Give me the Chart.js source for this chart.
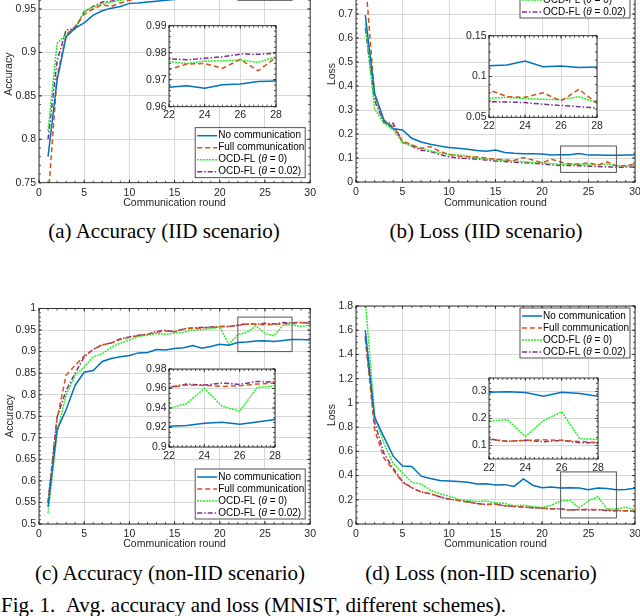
<!DOCTYPE html>
<html>
<head>
<meta charset="utf-8">
<script src="https://cdn.jsdelivr.net/npm/chart.js@4.4.0/dist/chart.umd.min.js"></script>
<style>
  body { margin: 0; background: #fff; }
  #fig { position: relative; width: 640px; height: 616px; overflow: hidden; background: #fff; }
  #fig canvas { position: absolute; }
  .cap { position: absolute; width: 340px; text-align: center; line-height: 24px;
         font-family: "Liberation Serif", "Times New Roman", serif; font-size: 21px; color: #000; white-space: nowrap; }
</style>
</head>
<body>
<div id="fig">
  <canvas id="mainA"></canvas><canvas id="insetA"></canvas>
  <canvas id="mainB"></canvas><canvas id="insetB"></canvas>
  <canvas id="mainC"></canvas><canvas id="insetC"></canvas>
  <canvas id="mainD"></canvas><canvas id="insetD"></canvas>
  <div class="cap" style="left:-6px;top:219px">(a) Accuracy (IID scenario)</div>
  <div class="cap" style="left:316px;top:219px">(b) Loss (IID scenario)</div>
  <div class="cap" style="left:0px;top:561px">(c) Accuracy (non-IID scenario)</div>
  <div class="cap" style="left:311px;top:561px">(d) Loss (non-IID scenario)</div>
  <div class="cap" style="left:1px;top:593px;text-align:left;width:620px">Fig. 1.&nbsp;&nbsp;Avg. accuracy and loss (MNIST, different schemes).</div>
</div>

<script>
/** ================================
 *  Datos
 =================================*/
const rounds = [1, 2, 3, 4, 5, 6, 7, 8, 9, 10, 11, 12, 13, 14, 15, 16, 17, 18, 19, 20, 21, 22, 23, 24, 25, 26, 27, 28, 29, 30];
const seriesNames = ["No communication", "Full communication", "OCD-FL (θ = 0)", "OCD-FL (θ = 0.02)"];

// (a) accuracy, IID
const accIidNone = [0.780, 0.868, 0.918, 0.928, 0.934, 0.943, 0.948, 0.951, 0.953, 0.9565, 0.957, 0.958, 0.959, 0.960, 0.961, 0.962, 0.963, 0.964, 0.965, 0.9655, 0.966, 0.9672, 0.9678, 0.9668, 0.9681, 0.9684, 0.9693, 0.9695, 0.9695, 0.970];
const accIidFull = [0.730, 0.872, 0.920, 0.930, 0.944, 0.950, 0.955, 0.953, 0.957, 0.960, 0.962, 0.964, 0.966, 0.967, 0.968, 0.969, 0.970, 0.971, 0.972, 0.973, 0.973, 0.9738, 0.9758, 0.9760, 0.9742, 0.9775, 0.9733, 0.9783, 0.977, 0.978];
const accIidOcd0 = [0.810, 0.910, 0.921, 0.928, 0.947, 0.952, 0.956, 0.958, 0.960, 0.962, 0.964, 0.966, 0.968, 0.969, 0.970, 0.971, 0.972, 0.973, 0.974, 0.975, 0.976, 0.9767, 0.9760, 0.9769, 0.9770, 0.9773, 0.9764, 0.9785, 0.978, 0.979];
const accIidOcd002 = [0.800, 0.890, 0.926, 0.927, 0.947, 0.953, 0.958, 0.959, 0.961, 0.963, 0.965, 0.967, 0.969, 0.970, 0.971, 0.972, 0.973, 0.974, 0.975, 0.976, 0.977, 0.9777, 0.9774, 0.9779, 0.9785, 0.9795, 0.9794, 0.9798, 0.980, 0.980];

// (b) loss, IID
const lossIidNone = [0.695, 0.370, 0.258, 0.222, 0.217, 0.182, 0.167, 0.157, 0.150, 0.144, 0.141, 0.136, 0.131, 0.128, 0.133, 0.123, 0.120, 0.118, 0.118, 0.117, 0.113, 0.1133, 0.114, 0.119, 0.112, 0.113, 0.111, 0.1116, 0.112, 0.112];
const lossIidFull = [0.850, 0.360, 0.250, 0.232, 0.170, 0.155, 0.140, 0.148, 0.128, 0.115, 0.108, 0.105, 0.104, 0.100, 0.095, 0.092, 0.090, 0.102, 0.092, 0.080, 0.095, 0.0835, 0.0753, 0.0745, 0.0800, 0.0700, 0.0843, 0.0670, 0.068, 0.075];
const lossIidOcd0 = [0.660, 0.305, 0.245, 0.218, 0.165, 0.152, 0.140, 0.130, 0.122, 0.115, 0.112, 0.108, 0.100, 0.096, 0.093, 0.090, 0.087, 0.085, 0.082, 0.080, 0.077, 0.0733, 0.0745, 0.0730, 0.0720, 0.0717, 0.0753, 0.0680, 0.068, 0.069];
const lossIidOcd002 = [0.640, 0.340, 0.247, 0.245, 0.165, 0.150, 0.132, 0.127, 0.115, 0.105, 0.100, 0.098, 0.095, 0.092, 0.087, 0.085, 0.082, 0.080, 0.078, 0.075, 0.072, 0.0690, 0.0688, 0.0680, 0.0660, 0.0645, 0.0630, 0.0615, 0.062, 0.062];

// (c) accuracy, non-IID
const accNonNone = [0.540, 0.719, 0.765, 0.822, 0.852, 0.856, 0.877, 0.884, 0.888, 0.891, 0.897, 0.898, 0.905, 0.904, 0.907, 0.909, 0.914, 0.908, 0.912, 0.917, 0.915, 0.9213, 0.9220, 0.9244, 0.9254, 0.9233, 0.9257, 0.9281, 0.928, 0.927];
const accNonFull = [0.550, 0.745, 0.845, 0.868, 0.890, 0.905, 0.915, 0.920, 0.928, 0.933, 0.937, 0.940, 0.945, 0.948, 0.946, 0.952, 0.954, 0.955, 0.956, 0.958, 0.958, 0.9610, 0.9635, 0.9632, 0.9621, 0.9628, 0.9645, 0.9656, 0.967, 0.966];
const accNonOcd0 = [0.525, 0.710, 0.800, 0.845, 0.865, 0.888, 0.895, 0.910, 0.920, 0.927, 0.935, 0.938, 0.942, 0.940, 0.943, 0.945, 0.950, 0.951, 0.953, 0.957, 0.917, 0.9395, 0.9446, 0.9600, 0.9419, 0.9367, 0.9611, 0.9628, 0.958, 0.962];
const accNonOcd002 = [0.550, 0.748, 0.810, 0.850, 0.888, 0.905, 0.916, 0.920, 0.930, 0.934, 0.938, 0.940, 0.947, 0.949, 0.946, 0.953, 0.955, 0.956, 0.957, 0.958, 0.958, 0.9611, 0.9645, 0.9635, 0.9656, 0.9642, 0.9673, 0.9666, 0.968, 0.966];

// (d) loss, non-IID
const lossNonNone = [1.600, 0.878, 0.720, 0.560, 0.478, 0.475, 0.395, 0.375, 0.360, 0.355, 0.350, 0.345, 0.330, 0.332, 0.322, 0.325, 0.310, 0.372, 0.320, 0.300, 0.305, 0.2975, 0.2990, 0.2963, 0.2825, 0.2975, 0.2925, 0.2825, 0.285, 0.295];
const lossNonFull = [1.530, 0.780, 0.545, 0.447, 0.343, 0.300, 0.265, 0.250, 0.225, 0.205, 0.195, 0.180, 0.170, 0.160, 0.165, 0.150, 0.145, 0.140, 0.135, 0.130, 0.125, 0.1225, 0.1160, 0.1190, 0.1210, 0.1190, 0.1150, 0.1110, 0.110, 0.105];
const lossNonOcd0 = [1.850, 0.900, 0.667, 0.500, 0.420, 0.343, 0.330, 0.280, 0.250, 0.230, 0.205, 0.195, 0.185, 0.190, 0.175, 0.170, 0.150, 0.155, 0.145, 0.135, 0.155, 0.1900, 0.1960, 0.1338, 0.1925, 0.2250, 0.1250, 0.1225, 0.140, 0.115];
const lossNonOcd002 = [1.550, 0.840, 0.584, 0.460, 0.350, 0.300, 0.263, 0.250, 0.225, 0.205, 0.195, 0.185, 0.170, 0.160, 0.165, 0.150, 0.145, 0.140, 0.135, 0.130, 0.125, 0.1250, 0.1150, 0.1190, 0.1140, 0.1190, 0.1100, 0.1100, 0.110, 0.105];

// ticks
const xTicks = [0, 5, 10, 15, 20, 25, 30];
const insetXTicks = [22, 24, 26, 28];
const accIidTicks = [0.75, 0.8, 0.85, 0.9, 0.95, 1];
const lossIidTicks = [0, 0.1, 0.2, 0.3, 0.4, 0.5, 0.6, 0.7, 0.8, 0.9];
const accNonTicks = [0.5, 0.55, 0.6, 0.65, 0.7, 0.75, 0.8, 0.85, 0.9, 0.95, 1];
const lossNonTicks = [0, 0.2, 0.4, 0.6, 0.8, 1, 1.2, 1.4, 1.6, 1.8];
const accIidInsetTicks = [0.96, 0.97, 0.98, 0.99];
const lossIidInsetTicks = [0.05, 0.1, 0.15];
const accNonInsetTicks = [0.9, 0.92, 0.94, 0.96, 0.98];
const lossNonInsetTicks = [0.1, 0.2, 0.3];

/** ================================
 *  Estilos
 =================================*/
const FONT = '"Liberation Sans", Arial, Helvetica, sans-serif';
const INK = "#262626";
const lineStyles = [
    { color: "#0072BD", dash: [] },
    { color: "#D95319", dash: [5, 3] },
    { color: "#22F022", dash: [2, 1] },
    { color: "#7E2F8E", dash: [5, 2, 1.5, 2] }
];

Chart.defaults.font.family = FONT;
Chart.defaults.font.size = 10.5;
Chart.defaults.color = INK;

/** ================================
 *  Plugin: caja, ticks hacia dentro, zoom y leyenda
 =================================*/
function tickMarks(ctx, a, scale, horiz, values, len) {
    ctx.beginPath();
    values.forEach(v => {
        const p = scale.getPixelForValue(v);
        if (horiz) {
            ctx.moveTo(p, a.bottom); ctx.lineTo(p, a.bottom - len);
            ctx.moveTo(p, a.top); ctx.lineTo(p, a.top + len);
        } else {
            ctx.moveTo(a.left, p); ctx.lineTo(a.left + len, p);
            ctx.moveTo(a.right, p); ctx.lineTo(a.right - len, p);
        }
    });
    ctx.stroke();
}

function minorValues(scale, step) {
    const out = [];
    const n = Math.round((scale.max - scale.min) / step);
    for (let i = 0; i <= n; i++) out.push(scale.min + i * step);
    return out;
}

function drawLegend(chart, corner) {
    const ctx = chart.ctx, a = chart.chartArea;
    const w = 110, h = 50;
    const x = a.right - 5 - w;
    const y = corner === "tr" ? a.top + 2 : a.bottom - 5 - h;
    ctx.fillStyle = "#fff";
    ctx.fillRect(x, y, w, h);
    ctx.strokeStyle = INK;
    ctx.lineWidth = 0.8;
    ctx.setLineDash([]);
    ctx.strokeRect(x, y, w, h);
    ctx.textBaseline = "middle";
    chart.data.datasets.forEach((ds, i) => {
        const cy = y + 8 + i * 12;
        ctx.strokeStyle = ds.borderColor;
        ctx.lineWidth = ds.borderWidth;
        ctx.setLineDash(ds.borderDash);
        ctx.beginPath(); ctx.moveTo(x + 2, cy); ctx.lineTo(x + 22, cy); ctx.stroke();
        ctx.setLineDash([]);
        ctx.fillStyle = "#000";
        let tx = x + 23;
        ds.label.split(/(θ)/).forEach(part => {
            if (!part) return;
            ctx.font = (part === "θ" ? "italic " : "") + "10px " + FONT;
            ctx.fillText(part, tx, cy);
            tx += ctx.measureText(part).width;
        });
    });
}

const matlabAxes = {
    id: "matlabAxes",
    beforeDraw(chart, args, o) {
        if (!o.fillArea) return;
        const a = chart.chartArea, ctx = chart.ctx;
        ctx.save();
        ctx.fillStyle = "#fff";
        ctx.fillRect(a.left, a.top, a.right - a.left, a.bottom - a.top);
        ctx.restore();
    },
    afterDatasetsDraw(chart, args, o) {
        const ctx = chart.ctx, a = chart.chartArea;
        const xs = chart.scales.x, ys = chart.scales.y;
        ctx.save();
        if (o.zoomBox) {
            const [x0, x1, y0, y1] = o.zoomBox;
            const px0 = xs.getPixelForValue(x0), px1 = xs.getPixelForValue(x1);
            const py0 = ys.getPixelForValue(y0), py1 = ys.getPixelForValue(y1);
            ctx.strokeStyle = "#555";
            ctx.lineWidth = 1;
            ctx.strokeRect(px0, py1, px1 - px0, py0 - py1);
        }
        ctx.strokeStyle = INK;
        ctx.lineWidth = 0.9;
        ctx.strokeRect(a.left, a.top, a.right - a.left, a.bottom - a.top);
        ctx.lineWidth = 0.8;
        tickMarks(ctx, a, xs, true, minorValues(xs, o.minorX), 2);
        tickMarks(ctx, a, ys, false, minorValues(ys, o.minorY), 2);
        tickMarks(ctx, a, xs, true, xs.ticks.map(t => t.value), 3);
        tickMarks(ctx, a, ys, false, ys.ticks.map(t => t.value), 3);
        if (o.legend) drawLegend(chart, o.legend);
        ctx.restore();
    }
};

/** ================================
 *  Construcción de gráficos
 =================================*/
function fmt(v) { return String(+v.toFixed(3)); }

function buildDatasets(list) {
    return list.map((vals, i) => ({
        label: seriesNames[i],
        data: rounds.map((r, k) => ({ x: r, y: vals[k] })),
        borderColor: lineStyles[i].color,
        borderDash: lineStyles[i].dash,
        borderWidth: 1.5,
        pointRadius: 0,
        tension: 0,
        fill: false
    }));
}

function makeChart(id, p) {
    const cv = document.getElementById(id);
    const [left, top, w, h] = p.pos;
    const [l, t, r, b] = p.area;
    cv.width = w; cv.height = h;
    cv.style.left = left + "px"; cv.style.top = top + "px";
    cv.style.width = w + "px"; cv.style.height = h + "px";

    return new Chart(cv, {
        type: "line",
        data: { datasets: buildDatasets(p.series) },
        plugins: [matlabAxes],
        options: {
            responsive: false,
            animation: false,
            layout: { padding: { left: 0, top: t - top, right: left + w - r, bottom: 0 } },
            plugins: {
                legend: { display: false },
                tooltip: { enabled: false },
                matlabAxes: {
                    minorX: p.minorX, minorY: p.minorY,
                    zoomBox: p.zoomBox, legend: p.legend, fillArea: p.inset
                }
            },
            scales: {
                x: {
                    type: "linear", min: p.xRange[0], max: p.xRange[1],
                    afterBuildTicks: s => { s.ticks = p.xTicks.map(v => ({ value: v })); },
                    afterFit: s => { s.height = top + h - b; },
                    ticks: { padding: p.xPad, maxRotation: 0, callback: fmt, color: INK },
                    grid: { color: "#d8d8d8", lineWidth: 1, drawTicks: false },
                    border: { display: false },
                    title: p.xTitle ? { display: true, text: p.xTitle, color: INK, padding: { top: 0, bottom: p.xTitlePad } } : { display: false }
                },
                y: {
                    type: "linear", min: p.yRange[0], max: p.yRange[1],
                    afterBuildTicks: s => { s.ticks = p.yTicks.map(v => ({ value: v })); },
                    afterFit: s => { s.width = l - left; },
                    ticks: { padding: p.yPad, callback: fmt, color: INK },
                    grid: { color: "#d8d8d8", lineWidth: 1, drawTicks: false },
                    border: { display: false },
                    title: p.yTitle ? { display: true, text: p.yTitle, color: INK, padding: { top: p.yTitlePad, bottom: 0 } } : { display: false }
                }
            }
        }
    });
}

const mainBase = { xRange: [0, 30], xTicks: xTicks, minorX: 1, xPad: 4, yPad: 3, xTitle: "Communication round", inset: false };
const insetBase = { xRange: [22, 28], xTicks: insetXTicks, minorX: 0.25, xPad: 2.5, yPad: 2.5, inset: true };

/** ================================
 *  Paneles
 =================================*/
makeChart("mainA", Object.assign({}, mainBase, {
    pos: [0, -46, 320, 256], area: [39, -34.4, 313, 182.7],
    series: [accIidNone, accIidFull, accIidOcd0, accIidOcd002],
    yRange: [0.75, 1], yTicks: accIidTicks, minorY: 0.01,
    yTitle: "Accuracy", yTitlePad: 2.5, xTitlePad: 1,
    zoomBox: [22, 28, 0.96, 0.99], legend: "br"
}));
makeChart("insetA", Object.assign({}, insetBase, {
    pos: [135, 15, 155, 115], area: [169, 25.7, 276, 106.7],
    series: [accIidNone, accIidFull, accIidOcd0, accIidOcd002],
    yRange: [0.96, 0.99], yTicks: accIidInsetTicks, minorY: 0.002
}));

makeChart("mainB", Object.assign({}, mainBase, {
    pos: [320, -46, 325, 256], area: [356, -34, 635, 182],
    series: [lossIidNone, lossIidFull, lossIidOcd0, lossIidOcd002],
    yRange: [0, 0.9], yTicks: lossIidTicks, minorY: 0.02,
    yTitle: "Loss", yTitlePad: 5.5, xTitlePad: 1,
    zoomBox: [22, 28, 0.04, 0.15], legend: "tr"
}));
makeChart("insetB", Object.assign({}, insetBase, {
    pos: [455, 25, 155, 115], area: [489, 35.7, 597, 117.3],
    series: [lossIidNone, lossIidFull, lossIidOcd0, lossIidOcd002],
    yRange: [0.05, 0.15], yTicks: lossIidInsetTicks, minorY: 0.01
}));

makeChart("mainC", Object.assign({}, mainBase, {
    pos: [0, 296, 320, 256], area: [39, 308.5, 313, 524],
    series: [accNonNone, accNonFull, accNonOcd0, accNonOcd002],
    yRange: [0.5, 1], yTicks: accNonTicks, minorY: 0.01,
    yTitle: "Accuracy", yTitlePad: 3.5, xTitlePad: 2,
    zoomBox: [22, 28, 0.9, 0.98], legend: "br"
}));
makeChart("insetC", Object.assign({}, insetBase, {
    pos: [135, 358, 155, 115], area: [169, 369, 275, 447],
    series: [accNonNone, accNonFull, accNonOcd0, accNonOcd002],
    yRange: [0.9, 0.98], yTicks: accNonInsetTicks, minorY: 0.005
}));

makeChart("mainD", Object.assign({}, mainBase, {
    pos: [320, 294, 325, 258], area: [356, 306, 635, 524],
    series: [lossNonNone, lossNonFull, lossNonOcd0, lossNonOcd002],
    yRange: [0, 1.8], yTicks: lossNonTicks, minorY: 0.05,
    yTitle: "Loss", yTitlePad: 5.5, xTitlePad: 2,
    zoomBox: [22, 28, 0.05, 0.43], legend: "tr"
}));
makeChart("insetD", Object.assign({}, insetBase, {
    pos: [455, 367, 155, 115], area: [489, 378, 598, 459],
    series: [lossNonNone, lossNonFull, lossNonOcd0, lossNonOcd002],
    yRange: [0.05, 0.35], yTicks: lossNonInsetTicks, minorY: 0.02
}));
</script>
</body>
</html>
